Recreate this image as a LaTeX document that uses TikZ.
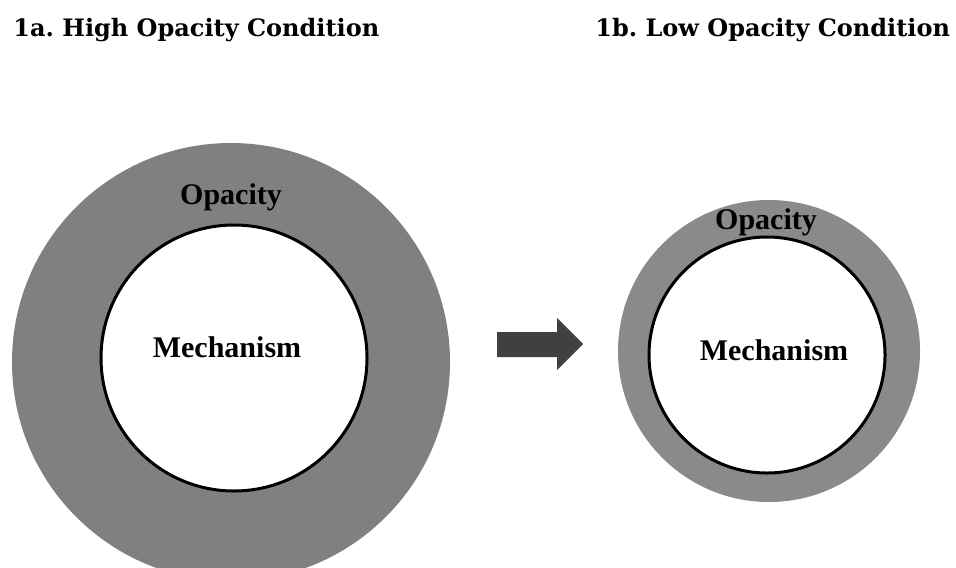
\documentclass[tikz,border=0pt]{standalone}
\usepackage{fontspec}
\setmainfont{Liberation Serif}
\newfontfamily\titlefont{DejaVu Serif}
\frenchspacing
\begin{document}
\def\px{0.5pt}
\begin{tikzpicture}[x=0.5pt,y=-0.5pt,
  ring/.style={circle,inner sep=0pt,fill=ringgray,draw=none},
  core/.style={circle,inner sep=0pt,fill=white,draw=black,line width=1.5pt},
  label/.style={inner sep=0pt,font=\bfseries\fontsize{15}{18}\selectfont},
  heading/.style={inner sep=0pt,anchor=base west,font=\titlefont\bfseries\fontsize{12}{14}\selectfont}]
\definecolor{ringgray}{gray}{0.5}
\definecolor{ringgraylight}{gray}{0.54}
\definecolor{arrowgray}{gray}{0.25}
\useasboundingbox (0,0) rectangle (956,567);
\clip (0,0) rectangle (956,567);

% headings
\node[heading] (ta) at (13,37) {1a. High Opacity Condition};
\node[heading] (tb) at (595,37) {1b. Low Opacity Condition};

% high opacity: wide ring around the mechanism
\node[ring,minimum size=438*\px] (outerA) at (231,362) {};
\node[core,minimum size=266*\px] (innerA) at (234,358) {};
\node[label] (opA) at (231,197) {Opacity};
\node[label] (meA) at (227,347) {Mechanism};

% transition arrow
\fill[arrowgray] (497,332) -- (557,332) -- (557,318) -- (583,344) -- (557,370)
  -- (557,357) -- (497,357) -- cycle;

% low opacity: thin ring around the mechanism
\node[ring,fill=ringgraylight,minimum size=302*\px] (outerB) at (769,351) {};
\node[core,minimum size=236*\px] (innerB) at (767,355) {};
\node[label] (opB) at (766,222) {Opacity};
\node[label] (meB) at (774,350) {Mechanism};
\end{tikzpicture}
\end{document}
